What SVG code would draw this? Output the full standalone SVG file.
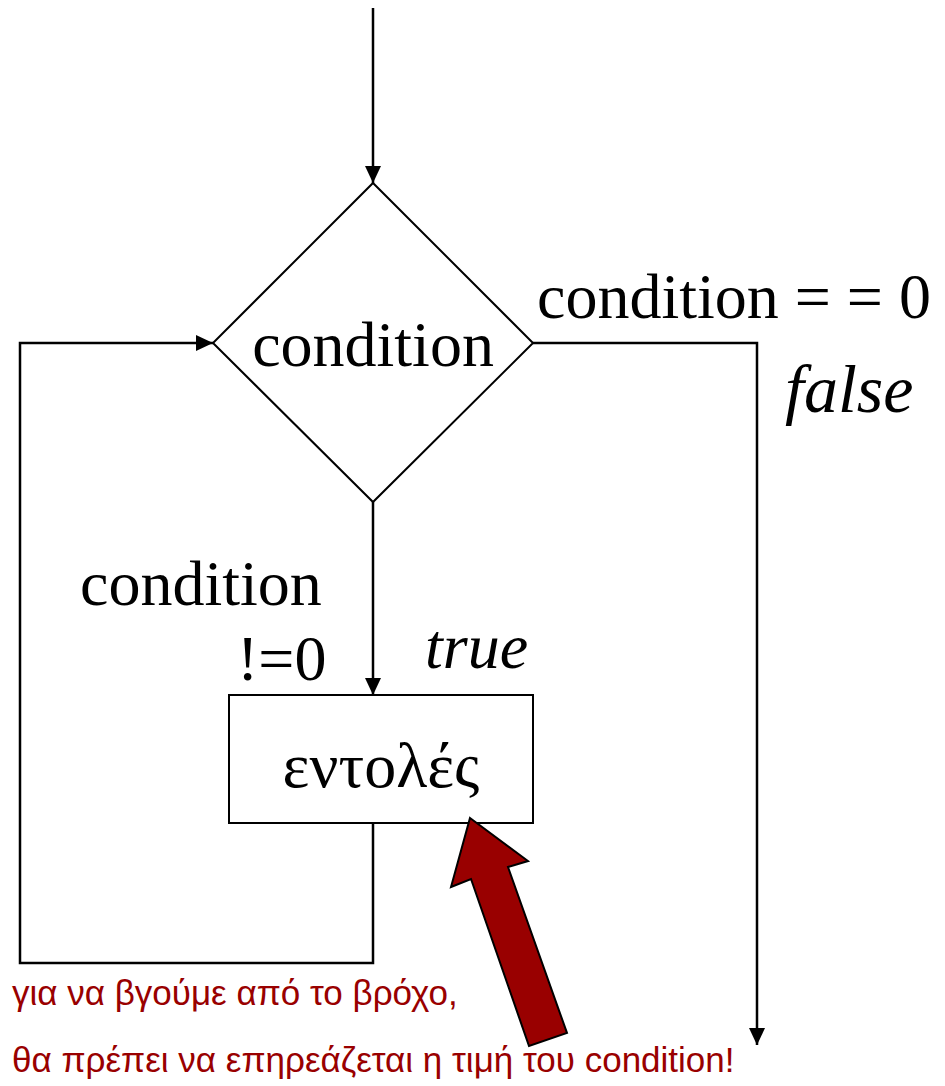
<svg xmlns="http://www.w3.org/2000/svg" width="945" height="1086" viewBox="0 0 945 1086">
<style>
.ln{fill:none;stroke:#000;stroke-width:2.5}
.sh{fill:#fff;stroke:#000;stroke-width:2}
.t{font-family:"Liberation Serif","Times New Roman",serif;font-size:64px;fill:#000}
.i{font-style:italic}
.r{font-family:"Liberation Sans",Arial,sans-serif;font-size:35px;fill:#990000}
</style>
<defs>
<marker id="ah" viewBox="0 0 17 16" refX="17" refY="8" markerWidth="17" markerHeight="16" markerUnits="userSpaceOnUse" orient="auto">
<path d="M0,0 L17,8 L0,16 Z" fill="#000"/>
</marker>
</defs>
<rect width="945" height="1086" fill="#fff"/>
<g id="connectors">
<path class="ln" d="M373,8 V183" marker-end="url(#ah)"/>
<path class="ln" d="M533,343 H757 V1045" marker-end="url(#ah)"/>
<path class="ln" d="M373,502 V695" marker-end="url(#ah)"/>
<path class="ln" d="M373,823 V963 H20 V343 H213" marker-end="url(#ah)"/>
</g>
<g id="decision">
<path class="sh" d="M373,183 L533,343 L373,502 L213,343 Z"/>
<text class="t" x="373" y="366" text-anchor="middle">condition</text>
</g>
<g id="statements">
<rect class="sh" x="229" y="695" width="304" height="128"/>
<text class="t" x="381" y="787" text-anchor="middle">εντολές</text>
</g>
<g id="labels">
<text class="t" x="537" y="318">condition = = 0</text>
<text class="t i" x="785" y="412" style="font-size:68px">false</text>
<text class="t" x="80" y="605">condition</text>
<text class="t" x="237" y="680">!=0</text>
<text class="t i" x="425" y="668">true</text>
</g>
<g id="note">
<path d="M470,818 L528,861 L508,867 L567,1033 L529,1046 L471,879 L451,887 Z" fill="#990000" stroke="#000" stroke-width="2"/>
<text class="r" x="12" y="1005">για να βγούμε από το βρόχο,</text>
<text class="r" x="12" y="1072">θα πρέπει να επηρεάζεται η τιμή του condition!</text>
</g>
</svg>
